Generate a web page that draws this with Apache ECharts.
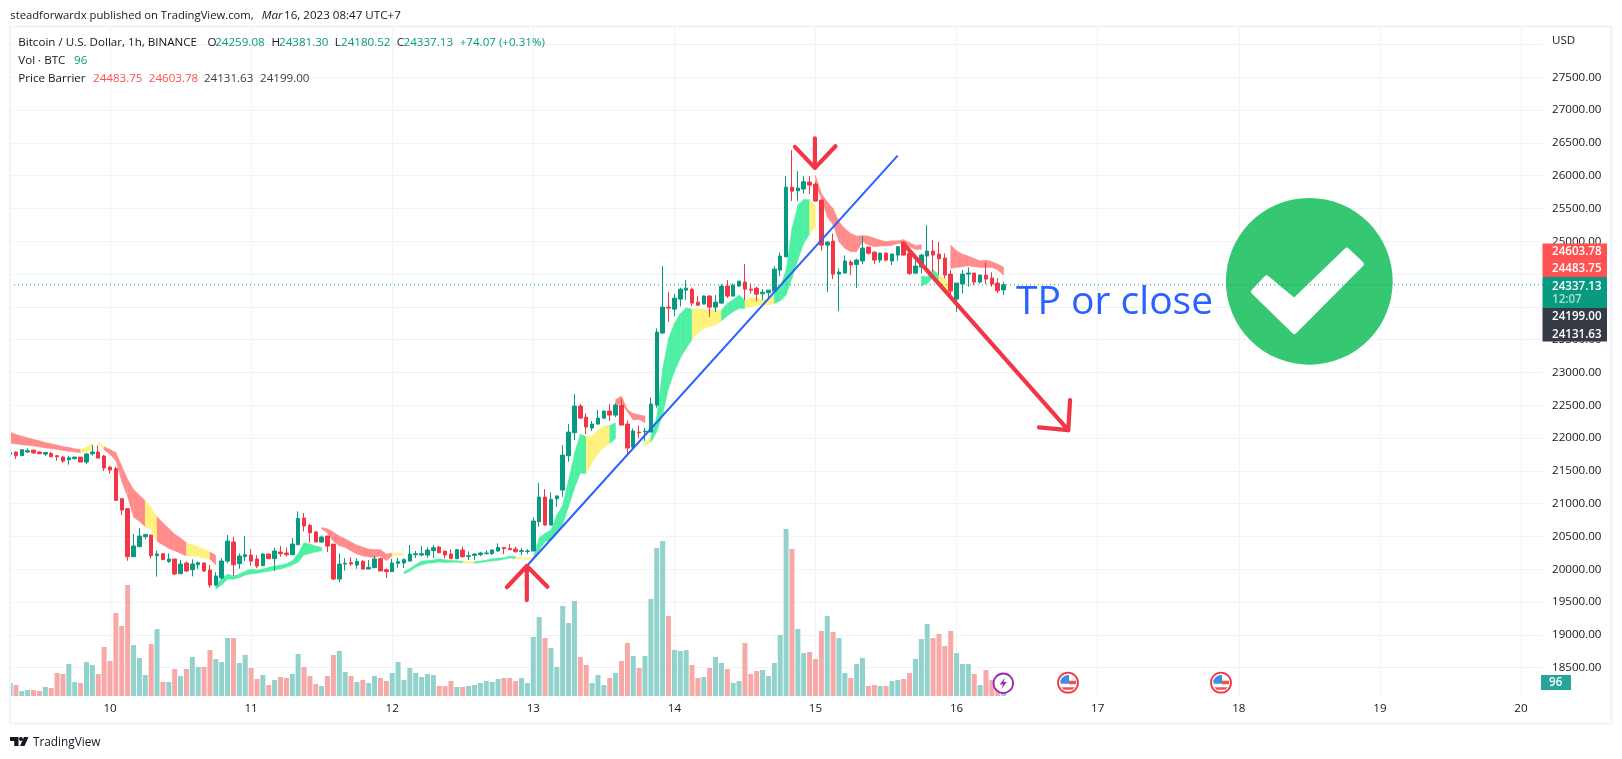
<!DOCTYPE html>
<html>
<head>
<meta charset="utf-8">
<title>BTCUSD 1h</title>
<script src="https://cdn.jsdelivr.net/npm/echarts@6/dist/echarts.min.js"></script>
<style>
  html, body { margin: 0; padding: 0; background: #fff; }
  #main { width: 1622px; height: 759px; }
</style>
</head>
<body>
<div id="main"></div>
<script>
// hours counted from Mar 10 00:00, first candle is at -17
var firstHour = -17;
var lastHour = 244;
var dayLabels = ["10", "11", "12", "13", "14", "15", "16", "17", "18", "19", "20"];
var priceTicks = [18500, 19000, 19500, 20000, 20500, 21000, 21500, 22000, 22500, 23000, 23500, 24000, 24500, 25000, 25500, 26000, 26500, 27000, 27500, 28000];
var priceLabels = [18500, 19000, 19500, 20000, 20500, 21000, 21500, 22000, 22500, 23000, 23500, 24000, 24500, 25000, 25500, 26000, 26500, 27000, 27500];
var lastClose = 24337.13;

var opens = [
  21752, 21788, 21732, 21788, 21818, 21788, 21757, 21767, 21732, 21711,
  21671, 21686, 21711, 21635, 21762, 21788, 21727, 21559, 21534, 21076,
  20924, 20192, 20345, 20497, 20523, 20208, 20238, 20121, 20157, 19933,
  20096, 19994, 20070, 20096, 19989, 19761, 19868, 20126, 20416, 20086,
  20192, 20218, 20157, 20055, 20233, 20162, 20263, 20248, 20223, 20375,
  20781, 20670, 20568, 20416, 20507, 20385, 19852, 20080, 20101, 20065,
  20121, 20004, 20025, 20162, 19994, 19964, 20091, 20096, 20126, 20223,
  20218, 20218, 20284, 20339, 20279, 20233, 20162, 20294, 20197, 20213,
  20223, 20238, 20238, 20279, 20334, 20319, 20309, 20274, 20274, 20279,
  20725, 21101, 20675, 21076, 21208, 21731, 22082, 22488, 22320, 22153,
  22214, 22305, 22412, 22351, 22503, 22214, 21863, 22092, 22097, 22092,
  22503, 23601, 23997, 23966, 24119, 24256, 24271, 24073, 24043, 24165,
  23997, 24058, 24317, 24165, 24317, 24378, 24271, 24286, 24200, 24215,
  24241, 24561, 24765, 25826, 25770, 25796, 25903, 25872, 25628, 24942,
  25003, 24500, 24516, 24683, 24648, 24699, 24912, 24835, 24714, 24820,
  24699, 24790, 24978, 24815, 24516, 24607, 24775, 24851, 24805, 24744,
  24500, 24119, 24348, 24500, 24516, 24378, 24485, 24440, 24363, 24259.08
];
var closes = [
  21782, 21732, 21823, 21808, 21772, 21762, 21782, 21716, 21716, 21650,
  21701, 21711, 21635, 21757, 21788, 21696, 21544, 21513, 21051, 20904,
  20192, 20355, 20507, 20528, 20208, 20233, 20147, 20157, 19928, 20081,
  19974, 20081, 20101, 19974, 19761, 19898, 20126, 20431, 20070, 20203,
  20223, 20126, 20050, 20233, 20162, 20279, 20238, 20223, 20385, 20776,
  20660, 20558, 20416, 20492, 20355, 19852, 20080, 20091, 20080, 20121,
  20004, 20030, 20157, 19974, 19964, 20096, 20116, 20147, 20233, 20238,
  20238, 20294, 20329, 20253, 20218, 20162, 20299, 20192, 20207, 20233,
  20248, 20248, 20294, 20334, 20314, 20299, 20268, 20284, 20279, 20736,
  21101, 20675, 21066, 21117, 21741, 22092, 22488, 22305, 22168, 22214,
  22305, 22412, 22351, 22503, 22199, 21848, 22107, 22082, 22107, 22519,
  23616, 23997, 23982, 24134, 24271, 24286, 24058, 24027, 24165, 23997,
  24073, 24317, 24165, 24332, 24393, 24271, 24256, 24195, 24225, 24256,
  24576, 24775, 25826, 25765, 25811, 25908, 25857, 25613, 24942, 24988,
  24500, 24531, 24699, 24638, 24714, 24897, 24820, 24714, 24820, 24714,
  24805, 24917, 24790, 24511, 24622, 24790, 24851, 24790, 24734, 24485,
  24241, 24363, 24500, 24516, 24378, 24485, 24424, 24348, 24246, 24337.13
];
var highs = [
  21818, 21793, 21833, 21843, 21818, 21803, 21788, 21788, 21742, 21727,
  21732, 21716, 21711, 21777, 21894, 21889, 21742, 21574, 21564, 21086,
  20934, 20538, 20629, 20543, 20523, 20284, 20248, 20243, 20157, 20142,
  20121, 20152, 20121, 20106, 20065, 19954, 20170, 20523, 20497, 20243,
  20507, 20309, 20218, 20253, 20233, 20330, 20355, 20334, 20477, 20883,
  20858, 20690, 20588, 20517, 20507, 20385, 20243, 20172, 20182, 20167,
  20141, 20141, 20202, 20182, 20014, 20162, 20177, 20167, 20370, 20279,
  20355, 20334, 20370, 20355, 20279, 20304, 20309, 20345, 20273, 20243,
  20268, 20294, 20304, 20395, 20334, 20390, 20345, 20324, 20309, 20792,
  21315, 21223, 21172, 21132, 21894, 22214, 22671, 22519, 22376, 22260,
  22427, 22417, 22519, 22529, 22600, 22270, 22148, 22194, 22153, 22620,
  23672, 24622, 24226, 24195, 24292, 24408, 24292, 24165, 24175, 24180,
  24180, 24347, 24408, 24358, 24398, 24652, 24358, 24307, 24271, 24256,
  24622, 24831, 25994, 26390, 26070, 25994, 25994, 25903, 25638, 25000,
  25120, 24587, 24785, 24714, 24734, 25070, 24917, 24846, 24825, 24836,
  24815, 24927, 24993, 24836, 24734, 24810, 25247, 25018, 24988, 24815,
  24561, 24363, 24561, 24602, 24516, 24495, 24678, 24526, 24440, 24381.30
];
var lows = [
  21742, 21681, 21727, 21777, 21767, 21757, 21727, 21711, 21655, 21625,
  21594, 21676, 21635, 21605, 21732, 21691, 21498, 21457, 21041, 20827,
  20131, 20192, 20340, 20457, 20167, 19888, 20142, 20096, 19913, 19928,
  19959, 19893, 20004, 19959, 19720, 19746, 19850, 20091, 19898, 20010,
  20126, 20055, 20015, 20050, 20162, 19974, 20192, 20192, 20218, 20370,
  20578, 20406, 20416, 20406, 20263, 19837, 19806, 19979, 20055, 20009,
  19999, 20004, 20020, 19974, 19867, 19959, 20025, 20020, 20121, 20172,
  20202, 20177, 20172, 20243, 20167, 20162, 20157, 20177, 20142, 20142,
  20202, 20228, 20218, 20268, 20233, 20294, 20258, 20218, 20233, 20279,
  20649, 20665, 20670, 20954, 21106, 21640, 21970, 22290, 22061, 22107,
  22209, 22290, 22260, 22320, 22199, 21746, 21843, 22000, 21955, 22092,
  22463, 23595, 23768, 23860, 24007, 24104, 24012, 24017, 24037, 23845,
  23921, 24043, 24134, 24160, 24312, 24104, 24205, 24088, 24104, 24129,
  24236, 24470, 24755, 25613, 25613, 25730, 25720, 25613, 24856, 24226,
  24424, 23936, 24511, 24485, 24287, 24653, 24800, 24653, 24673, 24693,
  24638, 24704, 24785, 24490, 24500, 24511, 24561, 24536, 24490, 24434,
  24180, 23921, 24206, 24308, 24333, 24358, 24348, 24307, 24206, 24180.52
];
var volumes = [
  91, 77, 35, 42, 42, 35, 63, 56, 161, 154,
  224, 98, 91, 238, 217, 154, 343, 245, 581, 490,
  777, 357, 266, 147, 364, 469, 98, 98, 189, 140,
  189, 273, 203, 203, 322, 259, 238, 406, 406, 231,
  287, 196, 119, 147, 77, 112, 133, 126, 154, 294,
  203, 140, 84, 70, 140, 287, 315, 168, 140, 98,
  112, 91, 140, 126, 105, 161, 238, 112, 196, 161,
  133, 154, 147, 70, 70, 105, 63, 63, 70, 77,
  91, 105, 98, 119, 126, 126, 105, 126, 91, 413,
  553, 406, 336, 203, 630, 511, 665, 273, 217, 91,
  147, 77, 126, 161, 245, 371, 280, 196, 280, 679,
  1036, 1085, 560, 322, 315, 322, 217, 126, 133, 196,
  273, 231, 189, 91, 105, 371, 154, 175, 182, 140,
  231, 427, 1169, 1029, 469, 301, 308, 259, 455, 560,
  448, 406, 161, 126, 224, 266, 70, 77, 70, 70,
  105, 112, 119, 161, 259, 399, 504, 406, 434, 350,
  455, 301, 224, 224, 154, 77, 182, 112, 70, 96
];

// Price Barrier ribbon, kind is the colour going to the next row, "-" ends a stretch
var ribbonHours = [
  -17, -16, -15, -14, -13, -12, -11, -10, -9, -8, -7, -6, -5, -4, -3,
  -2, -1, 0, 1, 2, 3, 4, 5, 6, 7, 8, 9, 10, 11, 12, 13, 14, 15, 16, 17, 18,
  18, 19, 20, 21, 22, 23, 24, 25, 26, 27, 28, 29, 30, 31, 32, 33, 34, 35, 36,
  36, 37, 38, 39, 40, 41, 42, 43, 44, 45, 46, 47, 48, 49, 50,
  50, 51, 52, 53, 54, 55, 56, 57, 58, 59, 60, 61, 62, 63, 64, 65, 66, 67, 68,
  69, 70, 71, 72, 73, 74, 75, 76, 77, 78, 79, 80, 81, 82, 83, 84, 85, 86,
  86, 87, 88, 89, 90, 91,
  91, 92, 93, 94, 95, 96, 97, 98, 99, 100, 101, 102, 103, 104, 105, 106, 107,
  108, 109, 110, 111, 112, 113, 114, 115, 116, 117, 118, 119, 120,
  120, 121, 122, 123, 124, 125, 126, 127, 128, 129, 130, 131, 132, 133, 134, 135, 136, 137, 138,
  138, 139, 140, 141, 142, 143,
  143, 144, 145, 146, 147, 148, 149, 150, 151, 152
];
var ribbonTops = [
  22097, 22057, 22031, 22006, 21981, 21960, 21935, 21915, 21894, 21874, 21859, 21838, 21828, 21859, 21920,
  21940, 21869, 21828, 21782, 21574, 21371, 21219, 21132, 21046, 20934, 20802, 20711, 20624, 20538, 20477, 20406, 20380, 20345, 20309, 20264, 20213,
  19761, 19863, 19929, 19898, 19929, 19974, 20000, 19990, 20005, 20030, 20050, 20065, 20086, 20131, 20243, 20406, 20385, 20355, 20334,
  20639, 20619, 20568, 20507, 20467, 20416, 20370, 20339, 20309, 20304, 20304, 20233, 20248, 20243, 20243,
  19964, 20014, 20075, 20126, 20136, 20141, 20162, 20147, 20136, 20131, 20126, 20121, 20116, 20126, 20141, 20162, 20172, 20177, 20202,
  20197, 20177, 20172, 20182, 20482, 20548, 20598, 20827, 20979, 21360, 21767, 22061, 22021, 22031, 22122, 22183, 22194, 22234,
  22590, 22641, 22437, 22376, 22356, 22336,
  21934, 22020, 22326, 23062, 23519, 23748, 23900, 23987, 23966, 23977, 23966, 23951, 23941, 23951, 24053, 24114, 24180,
  24104, 24144, 24140, 24104, 24114, 24206, 24307, 24561, 25196, 25552, 25638, 25638, 25537,
  26009, 25730, 25603, 25501, 25298, 25196, 25120, 25080, 25090, 25080, 25049, 25019, 24998, 25009, 25009, 25029, 24978, 24937, 24947,
  24470, 24460, 24571, 24485, 24424, 24333,
  24942, 24856, 24805, 24775, 24739, 24704, 24714, 24688, 24653, 24603.78
];
var ribbonBottoms = [
  21920, 21909, 21899, 21889, 21879, 21864, 21848, 21838, 21828, 21813, 21798, 21788, 21777, 21793, 21833,
  21920, 21818, 21752, 21655, 21335, 21107, 20792, 20731, 20645, 20609, 20426, 20370, 20319, 20284, 20243, 20203, 20203, 20192, 20167, 20152, 20065,
  19695, 19761, 19847, 19847, 19873, 19913, 19929, 19939, 19954, 19969, 19989, 20004, 20030, 20065, 20106, 20218, 20243, 20263, 20279,
  20619, 20548, 20426, 20360, 20334, 20279, 20233, 20202, 20187, 20182, 20202, 20131, 20202, 20213, 20223,
  19928, 19969, 20030, 20065, 20091, 20096, 20111, 20101, 20106, 20106, 20096, 20096, 20091, 20101, 20116, 20126, 20136, 20152, 20172,
  20162, 20157, 20152, 20152, 20294, 20421, 20446, 20573, 20675, 20954, 21233, 21462, 21462, 21625, 21767, 21858, 21919, 21990,
  22503, 22529, 22402, 22275, 22285, 22234,
  21884, 21934, 22097, 22351, 22757, 23011, 23215, 23367, 23494, 23606, 23672, 23697, 23723, 23784, 23860, 23926, 23977,
  23977, 24002, 24018, 24028, 24028, 24053, 24089, 24180, 24434, 24714, 24968, 25110, 25222,
  25857, 25654, 25374, 25247, 24993, 24892, 24841, 24841, 24993, 24942, 24917, 24927, 24927, 24937, 24968, 24968, 24917, 24876, 24876,
  24318, 24358, 24450, 24368, 24267, 24155,
  24587, 24602, 24612, 24627, 24612, 24602, 24602, 24602, 24561, 24483.75
];
var ribbonKinds = [
  "r", "r", "r", "r", "r", "r", "r", "r", "r", "r", "r", "r", "y", "y", "-",
  "y", "r", "r", "r", "r", "r", "r", "r", "y", "y", "r", "r", "r", "r", "r", "y", "y", "y", "y", "r", "-",
  "g", "g", "g", "g", "g", "g", "g", "g", "g", "g", "g", "g", "g", "g", "g", "g", "g", "g", "-",
  "r", "r", "r", "r", "r", "r", "r", "r", "r", "r", "r", "r", "y", "y", "-",
  "g", "g", "g", "g", "g", "g", "g", "g", "g", "g", "y", "y", "g", "g", "g", "g", "g", "g", "g",
  "y", "y", "y", "g", "g", "g", "g", "g", "g", "g", "g", "g", "y", "y", "y", "y", "g", "-",
  "r", "r", "r", "r", "r", "-",
  "y", "g", "g", "g", "g", "g", "g", "g", "y", "y", "y", "y", "y", "g", "g", "g", "g",
  "y", "y", "y", "y", "y", "g", "g", "g", "g", "g", "g", "y", "-",
  "r", "r", "r", "r", "r", "r", "r", "r", "r", "r", "r", "r", "r", "r", "r", "r", "r", "r", "-",
  "g", "g", "g", "y", "y", "-",
  "r", "r", "r", "r", "r", "r", "r", "r", "r", "-"
];

// drawings made on the chart, in hours and prices
var trendHours = [70.9, 133.9];
var trendPrices = [20050, 26298];
var upStemHours = [70.9, 70.9];
var upStemPrices = [20050, 19532];
var upWingHours = [67.5, 70.9, 74.4];
var upWingPrices = [19726, 20050, 19735];
var downStemHours = [119.9, 119.9];
var downStemPrices = [26120, 26568];
var downWingHours = [116.5, 119.9, 123.4];
var downWingPrices = [26440, 26120, 26450];
var tpStemHours = [134.9, 163];
var tpStemPrices = [24968, 22123];
var tpWingHours = [163.3, 163, 158];
var tpWingPrices = [22580, 22123, 22164];

var UP = "#089981";
var DOWN = "#f23645";
var GRID = "#f2f3f6";
var TEXT = "#131722";
var FONT = "'Open Sans', sans-serif";
var kindColors = { r: "#ff8b8b", y: "#fff27c", g: "#4df0a2" };

var categories = [];
for (var h = firstHour; h <= lastHour; h++) {
  categories.push(h % 24 === 0 && dayLabels[h / 24] ? dayLabels[h / 24] : "");
}

var candleData = opens.map(function (o, i) {
  return [o, closes[i], lows[i], highs[i]];
});
var volumeData = volumes.map(function (v, i) {
  return {
    value: v,
    itemStyle: { color: closes[i] >= opens[i] ? "#92d2cc" : "#f7a9a7" },
  };
});

function drawing(hours, prices, color, width) {
  return {
    type: "line",
    xAxisIndex: 1,
    yAxisIndex: 0,
    z: 6,
    silent: true,
    symbol: "none",
    animation: false,
    data: hours.map(function (x, i) {
      return [x, prices[i]];
    }),
    lineStyle: { color: color, width: width, cap: "round", join: "round" },
  };
}

// overlay pieces that are not chart marks
function label(x, y, text, color, extra) {
  var style = { x: x, y: y, text: text, fill: color, font: "11.6px " + FONT, textVerticalAlign: "middle", textAlign: "left" };
  if (extra) {
    for (var k in extra) style[k] = extra[k];
  }
  return { type: "text", z: 120, silent: true, style: style };
}
function box(x, y, w, h, fill) {
  return { type: "rect", z: 110, silent: true, shape: { x: x, y: y, width: w, height: h }, style: { fill: fill } };
}
function flagIcon(cx, cy) {
  return [
    { type: "circle", z: 110, shape: { cx: cx, cy: cy, r: 10 }, style: { fill: "#fff", stroke: "#f23645", lineWidth: 1.8 } },
    { type: "polygon", z: 111, shape: { points: [[cx - 7.5, cy + 1], [cx - 7.5, cy - 2.5], [cx - 5.5, cy - 5.5], [cx - 2, cy - 7.5], [cx + 1, cy - 7.7], [cx + 1, cy + 1]] }, style: { fill: "#3d8fe0" } },
    { type: "polygon", z: 111, shape: { points: [[cx + 1, cy - 2], [cx + 8, cy - 2], [cx + 8, cy + 1.5], [cx + 1, cy + 1.5]] }, style: { fill: "#ef5350" } },
    { type: "polygon", z: 111, shape: { points: [[cx - 6.5, cy + 4.5], [cx + 6.5, cy + 4.5], [cx + 4.5, cy + 7], [cx - 4.5, cy + 7]] }, style: { fill: "#ef5350" } },
  ];
}

var overlay = [
  // frame, the first candle is cut by it
  box(0, 27, 9.5, 669, "#fff"),
  { type: "rect", z: 112, silent: true, shape: { x: 10, y: 26.5, width: 1601.5, height: 697 }, style: { fill: "none", stroke: "#f0f3fa", lineWidth: 2 } },
  box(1543, 28, 4, 668, "#fff"),
  label(10.3, 15.5, "steadforwardx published on TradingView.com,", TEXT, { font: "11.25px " + FONT }),
  label(261.7, 15.5, "Mar", TEXT, { font: "italic 11.6px " + FONT }),
  label(284, 15.5, "16, 2023 08:47 UTC+7", TEXT),
  label(18.3, 43, "Bitcoin / U.S. Dollar, 1h, BINANCE", TEXT),
  label(207.6, 43, "O", TEXT),
  label(215.2, 43, "24259.08", UP),
  label(271.4, 43, "H", TEXT),
  label(279, 43, "24381.30", UP),
  label(334.7, 43, "L", TEXT),
  label(341, 43, "24180.52", UP),
  label(396.7, 43, "C", TEXT),
  label(403.6, 43, "24337.13", UP),
  label(459.7, 43, "+74.07 (+0.31%)", UP),
  label(18.3, 61, "Vol \u00b7 BTC", TEXT),
  label(74, 61, "96", UP),
  label(18.3, 78.5, "Price Barrier", TEXT),
  label(93, 78.5, "24483.75", "#ff5252"),
  label(148.8, 78.5, "24603.78", "#ff5252"),
  label(203.9, 78.5, "24131.63", "#363a45"),
  label(260, 78.5, "24199.00", "#363a45"),
  label(1552, 40.5, "USD", TEXT),
  // price tags on the axis
  box(1542.5, 243.5, 64.5, 33.5, "#ff5252"),
  box(1542.5, 277, 64.5, 31, "#089981"),
  box(1542.5, 308, 64.5, 33.5, "#363a45"),
  label(1552, 251.7, "24603.78", "#fff", { font: "600 11.6px " + FONT }),
  label(1552, 268.7, "24483.75", "#fff", { font: "600 11.6px " + FONT }),
  label(1552, 286.3, "24337.13", "#fff", { font: "600 11.6px " + FONT }),
  label(1552, 300, "12:07", "#a8e0d3", { font: "600 11.6px " + FONT }),
  label(1552, 316.7, "24199.00", "#fff", { font: "600 11.6px " + FONT }),
  label(1552, 334.7, "24131.63", "#fff", { font: "600 11.6px " + FONT }),
  box(1541, 675, 30, 15, "#26a69a"),
  label(1549, 682.5, "96", "#fff", { font: "600 11.6px " + FONT }),
  // note and check mark
  label(1016, 302.5, "TP or close", "#2962ff", { font: "39px " + FONT }),
  { type: "circle", z: 105, silent: true, shape: { cx: 1309.3, cy: 281.3, r: 83.4 }, style: { fill: "#36c772" } },
  { type: "polygon", z: 106, silent: true, shape: { points: [[1266.7, 277.8], [1294.3, 300.8], [1346.7, 250.2], [1361.5, 264], [1294.3, 331.5], [1253.5, 291.7]] }, style: { fill: "#fff", stroke: "#fff", lineWidth: 5, lineJoin: "round" } },
  // event icons
  { type: "circle", z: 110, silent: true, shape: { cx: 1003.3, cy: 683.3, r: 9.8 }, style: { fill: "#fff", stroke: "#9c27b0", lineWidth: 1.8 } },
  { type: "polygon", z: 111, silent: true, shape: { points: [[1005, 677.5], [999.8, 684.5], [1003, 684.5], [1001.6, 689], [1006.8, 682], [1003.6, 682]] }, style: { fill: "#9c27b0" } },
  // TradingView mark
  { type: "polygon", z: 110, silent: true, shape: { points: [[10, 737], [18.5, 737], [18.5, 746], [14.2, 746], [14.2, 741], [10, 741]] }, style: { fill: TEXT } },
  { type: "circle", z: 110, silent: true, shape: { cx: 21, cy: 739, r: 2 }, style: { fill: TEXT } },
  { type: "polygon", z: 110, silent: true, shape: { points: [[24, 737], [28.5, 737], [24.5, 746], [20, 746]] }, style: { fill: TEXT } },
  label(33, 742.5, "TradingView", TEXT, { font: "500 11.8px " + FONT }),
].concat(flagIcon(1068, 682.7), flagIcon(1221, 682.7));

var chart = echarts.init(document.getElementById("main"));
var option = {
  animation: false,
  backgroundColor: "#fff",
  grid: { left: 10.06, top: 27, width: 1534.44, height: 669 },
  xAxis: [
    {
      type: "category",
      data: categories,
      boundaryGap: false,
      axisLine: { show: false },
      axisTick: { show: false },
      axisLabel: {
        margin: 7,
        color: TEXT,
        fontFamily: FONT,
        fontSize: 11.6,
        interval: function (i, v) {
          return v !== "";
        },
      },
      splitLine: {
        show: true,
        interval: function (i, v) {
          return v !== "";
        },
        lineStyle: { color: GRID, width: 1 },
      },
    },
    { type: "value", min: firstHour, max: lastHour, show: false },
  ],
  yAxis: [
    {
      type: "value",
      position: "right",
      min: 18069,
      max: 28267,
      axisLine: { show: false },
      axisTick: { show: false, customValues: priceTicks },
      axisLabel: {
        customValues: priceLabels,
        margin: 7.5,
        color: TEXT,
        fontFamily: FONT,
        fontSize: 11.6,
        formatter: function (v) {
          return v.toFixed(2);
        },
      },
      splitLine: { show: true, lineStyle: { color: GRID, width: 1 } },
    },
    { type: "value", min: 0, max: 4683, show: false },
  ],
  series: [
    {
      type: "bar",
      name: "Vol",
      xAxisIndex: 0,
      yAxisIndex: 1,
      z: 1,
      barWidth: 5,
      silent: true,
      data: volumeData,
    },
    {
      type: "custom",
      name: "Price Barrier",
      xAxisIndex: 1,
      yAxisIndex: 0,
      z: 2,
      silent: true,
      clip: true,
      encode: { x: 0, y: [1, 2] },
      data: ribbonHours.map(function (x, i) {
        return [x, ribbonTops[i], ribbonBottoms[i]];
      }),
      renderItem: function (params, api) {
        var i = params.dataIndex;
        var kind = ribbonKinds[i];
        if (kind === "-") return null;
        var a = api.coord([ribbonHours[i], ribbonTops[i]]);
        var b = api.coord([ribbonHours[i + 1], ribbonTops[i + 1]]);
        var c = api.coord([ribbonHours[i + 1], ribbonBottoms[i + 1]]);
        var d = api.coord([ribbonHours[i], ribbonBottoms[i]]);
        return {
          type: "polygon",
          shape: { points: [a, b, c, d] },
          style: { fill: kindColors[kind], stroke: kindColors[kind], lineWidth: 0.4 },
        };
      },
    },
    {
      type: "candlestick",
      name: "BTCUSD",
      xAxisIndex: 0,
      yAxisIndex: 0,
      z: 3,
      barWidth: 4,
      silent: true,
      data: candleData,
      itemStyle: {
        color: UP,
        color0: DOWN,
        borderColor: UP,
        borderColor0: DOWN,
        borderWidth: 1,
      },
    },
    {
      // last price runs over the drawings too
      type: "line",
      name: "Last",
      xAxisIndex: 1,
      yAxisIndex: 0,
      z: 108,
      silent: true,
      symbol: "none",
      data: [[firstHour, lastClose], [lastHour, lastClose]],
      lineStyle: { color: UP, type: [1, 3], width: 1 },
    },
    drawing(trendHours, trendPrices, "#2962ff", 2),
    drawing(upStemHours, upStemPrices, "#f23645", 4.2),
    drawing(upWingHours, upWingPrices, "#f23645", 4.2),
    drawing(downStemHours, downStemPrices, "#f23645", 4.2),
    drawing(downWingHours, downWingPrices, "#f23645", 4.2),
    drawing(tpStemHours, tpStemPrices, "#f23645", 4.2),
    drawing(tpWingHours, tpWingPrices, "#f23645", 4.2),
  ],
  graphic: { elements: overlay },
};
chart.setOption(option);
</script>
</body>
</html>
